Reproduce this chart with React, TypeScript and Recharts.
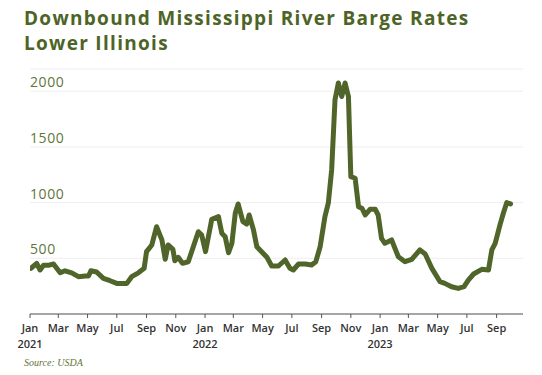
import React from "react";
import { LineChart, Line, XAxis, YAxis, CartesianGrid } from "recharts";

const dates = [
  "2021-01-03","2021-01-15","2021-01-22","2021-01-29","2021-02-08","2021-02-19","2021-03-05","2021-03-15","2021-03-29","2021-04-12",
  "2021-04-26","2021-05-03","2021-05-08","2021-05-20","2021-06-03","2021-06-17","2021-07-01","2021-07-22","2021-08-01","2021-08-15",
  "2021-08-27","2021-09-01","2021-09-12","2021-09-22","2021-10-03","2021-10-10","2021-10-16","2021-10-26","2021-10-30","2021-11-06",
  "2021-11-15","2021-11-27","2021-12-18","2021-12-25","2022-01-02","2022-01-15","2022-01-29","2022-02-05","2022-02-12","2022-02-19",
  "2022-02-26","2022-03-05","2022-03-11","2022-03-21","2022-03-29","2022-04-03","2022-04-12","2022-04-19","2022-04-29","2022-05-10",
  "2022-05-20","2022-06-03","2022-06-17","2022-06-27","2022-07-04","2022-07-15","2022-07-29","2022-08-11","2022-08-20","2022-08-29",
  "2022-09-08","2022-09-15","2022-09-22","2022-09-26","2022-09-29","2022-10-06","2022-10-13","2022-10-20","2022-10-27","2022-11-01",
  "2022-11-10","2022-11-17","2022-11-24","2022-12-01","2022-12-11","2022-12-22","2022-12-28","2023-01-04","2023-01-11","2023-01-25",
  "2023-02-08","2023-02-22","2023-03-08","2023-03-25","2023-04-05","2023-04-19","2023-05-06","2023-05-16","2023-05-30","2023-06-13",
  "2023-06-25","2023-07-04","2023-07-15","2023-08-01","2023-08-15","2023-08-22","2023-08-29","2023-09-08","2023-09-15","2023-09-22",
  "2023-09-30",
];

const rates = [
  410, 455, 395, 437, 437, 449, 370, 388, 370, 335,
  341, 341, 388, 377, 320, 299, 275, 275, 335, 370,
  410, 560, 620, 784, 665, 491, 620, 581, 478, 509,
  455, 469, 739, 709, 560, 851, 874, 725, 694, 550,
  635, 905, 988, 829, 808, 889, 755, 604, 559, 509,
  431, 431, 485, 410, 395, 449, 449, 440, 470, 604,
  874, 995, 1294, 1654, 1924, 2074, 1953, 2074, 1953, 1234,
  1219, 964, 950, 889, 940, 940, 889, 680, 635, 665,
  514, 470, 491, 575, 539, 410, 290, 275, 245, 230,
  245, 305, 359, 401, 395, 575, 635, 800, 905, 1000,
  988,
];

const monthTicks = [
  "2021-01-01","2021-03-01","2021-05-01","2021-07-01","2021-09-01","2021-11-01",
  "2022-01-01","2022-03-01","2022-05-01","2022-07-01","2022-09-01","2022-11-01",
  "2023-01-01","2023-03-01","2023-05-01","2023-07-01","2023-09-01",
];
const monthNames = ["Jan","Feb","Mar","Apr","May","Jun","Jul","Aug","Sep","Oct","Nov","Dec"];
const yTicks = [500, 1000, 1500, 2000];
const xStart = "2021-01-01";
const xEnd = "2023-10-26";
const titleLines = ["Downbound Mississippi River Barge Rates", "Lower Illinois"];

const ts = (s: string) => {
  const [y, m, d] = s.split("-").map(Number);
  return Date.UTC(y, m - 1, d);
};

const data = dates.map((d, i) => ({ t: ts(d), v: rates[i] }));

const GREEN = "#50652a";
const LABEL = "#637537";

const XTick = (props: any) => {
  const { x, payload } = props;
  const dt = new Date(payload.value);
  const m = dt.getUTCMonth();
  return (
    <g>
      <text x={x} y={332} textAnchor="middle" fontFamily="Open Sans" fontWeight={600} fontSize={11} fill="#333">
        {monthNames[m]}
      </text>
      {m === 0 && (
        <text x={x} y={348} textAnchor="middle" fontFamily="Open Sans" fontWeight={600} fontSize={11} fill="#333">
          {dt.getUTCFullYear()}
        </text>
      )}
    </g>
  );
};

const YTick = (props: any) => {
  const { y, payload } = props;
  return (
    <text x={30} y={y - 4} textAnchor="start" fontFamily="Open Sans" fontSize={14} letterSpacing={0.6} fill={LABEL}>
      {payload.value}
    </text>
  );
};

export default function App() {
  return (
    <div style={{ position: "fixed", left: 0, top: 0, width: 542, height: 375, background: "#fff", overflow: "hidden" }}>
      {titleLines.map((line, i) => (
        <div
          key={i}
          style={{
            position: "absolute",
            left: 24,
            top: 6 + i * 25,
            fontFamily: "Open Sans",
            fontWeight: 700,
            fontSize: 19,
            lineHeight: "25px",
            letterSpacing: 1.3,
            color: "#4d6426",
            whiteSpace: "nowrap",
          }}
        >
          {line}
        </div>
      ))}
      <div style={{ position: "absolute", left: 0, top: 0 }}>
        <LineChart width={542} height={375} data={data} margin={{ top: 69, right: 19, bottom: 31, left: 0 }}>
          <CartesianGrid horizontal vertical={false} stroke="#eeeeee" />
          <XAxis
            dataKey="t"
            type="number"
            scale="time"
            domain={[ts(xStart), ts(xEnd)]}
            ticks={monthTicks.map(ts)}
            tick={<XTick />}
            axisLine={{ stroke: "#555" }}
            tickLine={{ stroke: "#555" }}
            tickSize={4}
            height={30}
            interval={0}
            allowDataOverflow
          />
          <YAxis
            type="number"
            domain={[0, 2200]}
            ticks={yTicks}
            tick={<YTick />}
            axisLine={false}
            tickLine={false}
            width={30}
            interval={0}
          />
          <Line
            type="linear"
            dataKey="v"
            stroke={GREEN}
            strokeWidth={5}
            dot={false}
            strokeLinejoin="round"
            strokeLinecap="round"
            isAnimationActive={false}
          />
        </LineChart>
      </div>
      <div
        style={{
          position: "absolute",
          left: 24,
          top: 357,
          fontFamily: "Liberation Serif",
          fontStyle: "italic",
          fontSize: 10,
          color: LABEL,
        }}
      >
        Source: USDA
      </div>
    </div>
  );
}
